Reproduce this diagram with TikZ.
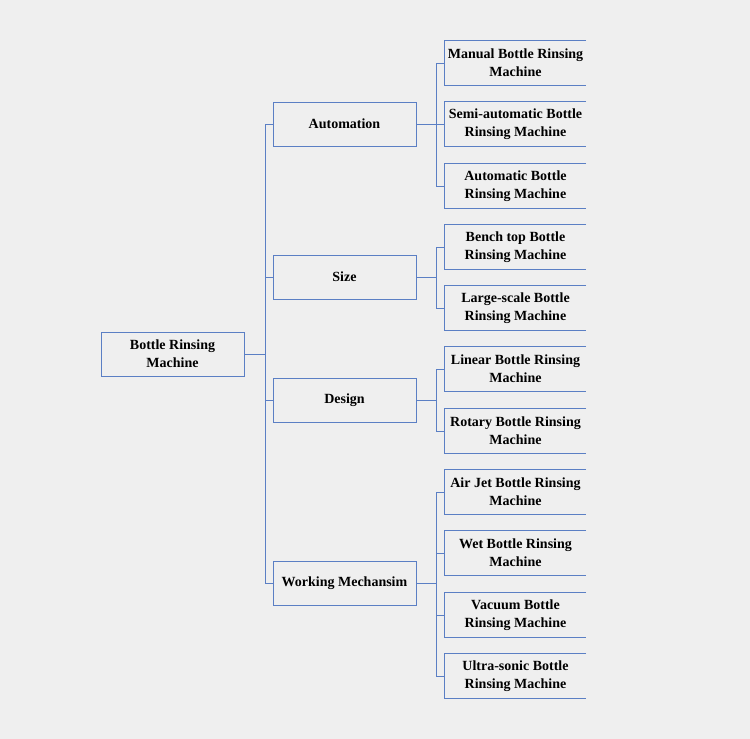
\documentclass[tikz,border=0pt]{standalone}
\usepackage{fontspec}
\setmainfont{Liberation Serif}
\definecolor{bg}{HTML}{EFEFEF}
\definecolor{ln}{HTML}{5B7FC4}
\begin{document}
\begin{tikzpicture}[x=1pt,y=-1pt,
  txt/.style={font=\fontsize{14}{18}\selectfont\bfseries, align=center, inner sep=0pt, text=black},
  boxA/.style={txt, draw=ln, line width=1pt, minimum width=143pt, minimum height=44pt},
  boxB/.style={txt, minimum width=141pt, minimum height=44pt},
  conn/.style={draw=ln, line width=1pt}]
\fill[bg] (0,0) rectangle (750,739);
\useasboundingbox (0,0) rectangle (750,739);

\node[boxA] (root) at (172.5,354) {Bottle Rinsing\\Machine};
\node[boxA] (auto) at (344.5,124) {Automation};
\node[boxA] (size) at (344.5,277) {Size};
\node[boxA] (design) at (344.5,400) {Design};
\node[boxA] (work) at (344.5,583) {Working Mechansim};

\foreach \n/\y/\t in {
  m1/63/{Manual Bottle Rinsing\\Machine},
  m2/124/{Semi-automatic Bottle\\Rinsing Machine},
  m3/186/{Automatic Bottle\\Rinsing Machine},
  s1/247/{Bench top Bottle\\Rinsing Machine},
  s2/308/{Large-scale Bottle\\Rinsing Machine},
  d1/369/{Linear Bottle Rinsing\\Machine},
  d2/431/{Rotary Bottle Rinsing\\Machine},
  w1/492/{Air Jet Bottle Rinsing\\Machine},
  w2/553/{Wet Bottle Rinsing\\Machine},
  w3/615/{Vacuum Bottle\\Rinsing Machine},
  w4/676/{Ultra-sonic Bottle\\Rinsing Machine}} {
  \node[boxB] (\n) at (515.5,\y) {\t};
  \draw[conn] (\n.north east) -- (\n.north west) -- (\n.south west) -- (\n.south east);
}

% trunk
\coordinate (tr) at (265,354);
\draw[conn] (root.east) -- (tr);
\draw[conn] (auto.west -| tr) -- (work.west -| tr);
\foreach \n in {auto,size,design,work} \draw[conn] (\n.west -| tr) -- (\n.west);

% branches
\coordinate (br) at (436,0);
\foreach \p/\a/\b in {auto/m1/m3, size/s1/s2, design/d1/d2, work/w1/w4} {
  \draw[conn] (\p.east) -- (\p.east -| br);
  \draw[conn] (\a.west -| br) -- (\b.west -| br);
}
\foreach \n in {m1,m2,m3,s1,s2,d1,d2,w1,w2,w3,w4} \draw[conn] (\n.west -| br) -- (\n.west);
\end{tikzpicture}
\end{document}
